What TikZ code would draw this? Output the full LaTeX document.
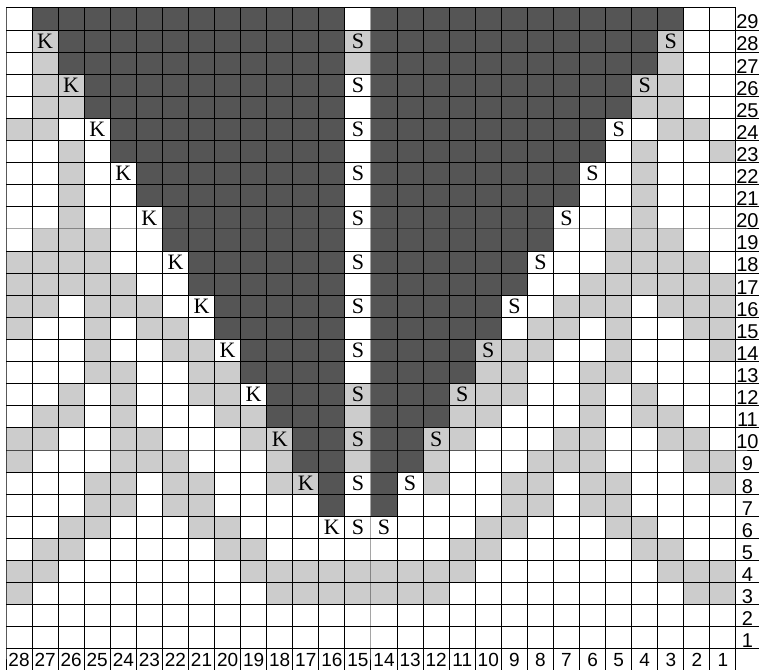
\documentclass[tikz,border=0pt]{standalone}
\usepackage{fontspec}
\setmainfont{Liberation Serif}
\setsansfont{Liberation Sans}
\usepackage{tikz}
\definecolor{chartdark}{RGB}{85,85,85}
\definecolor{chartlight}{RGB}{204,204,204}

\begin{document}
\begin{tikzpicture}[
    x=26.07pt, y=22.1pt,
    darkcell/.style={fill=chartdark},
    lightcell/.style={fill=chartlight},
    gridline/.style={draw=black, line width=1pt, line cap=rect},
    stitch/.style={inner sep=0pt, font={\fontsize{22}{22}\selectfont}},
    rowlab/.style={anchor=base, inner sep=0pt, xshift=11.5pt, yshift=1.2pt, font={\sffamily\fontsize{20}{20}\selectfont}},
    collab/.style={anchor=base, inner sep=0pt, yshift=-18pt, font={\sffamily\fontsize{19}{19}\selectfont}}
]
\useasboundingbox (-6pt,-21pt) rectangle (753pt,648.9pt);

% ═══════════════════════════════════════════════════════════════
% Light cells (row / stitch numbers)
% ═══════════════════════════════════════════════════════════════
\foreach \r/\cols in {
    28/{27,15,3}, 27/{27,15,3}, 26/{27,26,4,3}, 25/{27,26,4,3},
    24/{28,27,3,2}, 23/{26,4,1}, 22/{26,4}, 21/{26,4}, 20/{26,4},
    19/{27,26,25,5,4,3}, 18/{28,27,26,25,5,4,3,2},
    17/{28,27,26,25,24,6,5,4,3,2,1}, 16/{28,27,25,24,23,7,6,5,3,2,1},
    15/{28,25,23,22,8,7,5,2,1}, 14/{25,22,21,10,9,8,5,1},
    13/{25,24,21,20,10,9,6,5}, 12/{26,24,21,20,15,11,10,9,6,4},
    11/{27,26,24,20,19,15,11,10,6,4,3},
    10/{28,27,24,23,19,18,15,12,11,7,6,3,2},
    9/{28,24,23,22,18,15,12,8,7,6,2,1},
    8/{25,24,22,21,18,17,12,9,8,6,5,1},
    7/{25,24,22,21,9,8,6,5}, 6/{26,25,21,20,10,9,5,4},
    5/{27,26,20,19,11,10,4,3},
    4/{28,27,19,18,17,16,15,14,13,12,11,3,2,1},
    3/{28,18,17,16,15,14,13,12,2,1}} {
  \foreach \c in \cols {
    \fill[lightcell] (28-\c,\r-1) rectangle ++(1,1);
  }
}

% Dark wedges, one step every two rows
\foreach \r in {7,...,29} {
  \pgfmathtruncatemacro\half{ceil(\r/2)}
  \fill[darkcell] (16-\half,\r-1) rectangle (13,\r);
  \fill[darkcell] (14,\r-1) rectangle (11+\half,\r);
}

% ═══════════════════════════════════════════════════════════════
% Grid
% ═══════════════════════════════════════════════════════════════
\foreach \y in {0,...,28} \draw[gridline] (0,\y) -- (28,\y) -- ++(23pt,0);
\draw[gridline] (0,29) -- (28,29);
\foreach \x in {0,...,28} \draw[gridline] (\x,29) -- (\x,0) -- ++(0,-21pt);

% Stitch marks
\foreach \r in {6,8,...,28} {
  \pgfmathtruncatemacro\kc{13+\r/2}
  \pgfmathtruncatemacro\sc{17-\r/2}
  \node[stitch] (k\r) at (28.5-\kc,\r-0.5) {K};
  \node[stitch] (s\r) at (13.5,\r-0.5) {S};
  \node[stitch] (t\r) at (28.5-\sc,\r-0.5) {S};
}

% Row and stitch numbers
\foreach \r in {1,...,29} \node[rowlab] (row\r) at (28,\r-1) {\r};
\foreach \c in {1,...,28} \node[collab] (col\c) at (28.5-\c,0) {\c};

\end{tikzpicture}
\end{document}
